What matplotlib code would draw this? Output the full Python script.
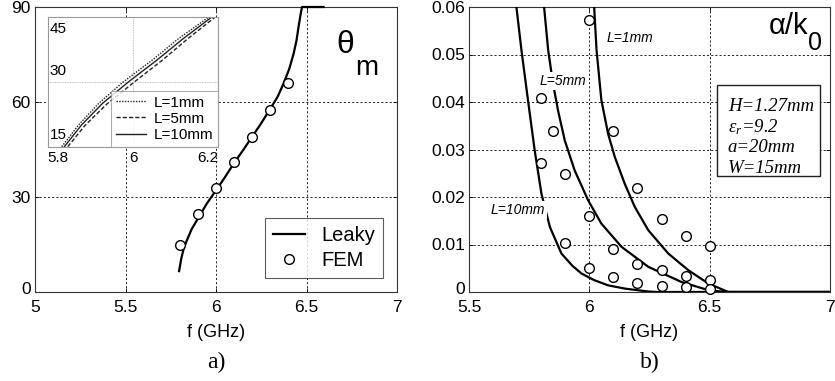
import matplotlib
matplotlib.use("Agg")
import matplotlib.pyplot as plt
import matplotlib.transforms as mtransforms
from matplotlib.patches import Rectangle

plt.rcParams['font.family'] = ['Liberation Sans', 'DejaVu Sans']
plt.rcParams['mathtext.fontset'] = 'custom'
plt.rcParams['mathtext.it'] = 'Liberation Serif:italic'
plt.rcParams['mathtext.rm'] = 'Liberation Serif:italic'

# ---------------- data: panel a) ----------------
f_leaky = [5.796, 5.808, 5.822, 5.839, 5.865, 5.894, 5.949, 6.0, 6.05, 6.097, 6.15, 6.198,
           6.25, 6.3, 6.34, 6.373, 6.405, 6.429, 6.445, 6.456, 6.467, 6.475, 6.594]
theta_leaky = [6.6, 10.5, 13.8, 16.3, 19.8, 22.6, 27.9, 32.1, 36.3, 40.5, 44.8, 48.9,
               53.3, 57.9, 61.6, 65.8, 70.5, 75.3, 79.5, 83.7, 87.5, 90, 90]
f_fem_a = [5.8, 5.9, 6.0, 6.1, 6.2, 6.3, 6.4]
theta_fem = [15, 24.5, 33, 41, 49, 57.5, 66]

# inset curves
th_in = [15, 20, 25, 30, 35, 40, 45]
f_in_1mm = [5.833, 5.872, 5.919, 5.977, 6.044, 6.106, 6.177]
f_in_5mm = [5.847, 5.888, 5.940, 6.003, 6.068, 6.128, 6.192]
f_in_10mm = [5.839, 5.879, 5.928, 5.989, 6.055, 6.117, 6.184]
inset_yticks = [15, 30, 45]

# ---------------- data: panel b) ----------------
f_L10 = [5.69, 5.697, 5.718, 5.745, 5.773, 5.801, 5.836, 5.884, 5.93, 5.967, 6.02, 6.078,
         6.15, 6.245, 6.28, 7.0]
a_L10 = [0.065, 0.06, 0.0509, 0.0404, 0.0298, 0.0207, 0.0137, 0.0081, 0.0055, 0.0039, 0.0025,
         0.0014, 0.0007, 0.0001, 0.0, 0.0]
f_L5 = [5.805, 5.812, 5.829, 5.849, 5.870, 5.898, 5.939, 5.995, 6.050, 6.134, 6.245, 6.383,
        6.494, 6.563, 7.0]
a_L5 = [0.065, 0.06, 0.0509, 0.0439, 0.0382, 0.0319, 0.0256, 0.0193, 0.0144, 0.0095, 0.0053,
        0.0021, 0.0004, 0.0, 0.0]
f_L1 = [6.015, 6.020, 6.030, 6.050, 6.078, 6.106, 6.147, 6.189, 6.245, 6.328, 6.411, 6.494,
        6.577, 7.0]
a_L1 = [0.065, 0.06, 0.0509, 0.0404, 0.0333, 0.0284, 0.0228, 0.0179, 0.0130, 0.0081, 0.0046,
        0.0018, 0.0, 0.0]

f_fem_L1 = [6.0, 6.1, 6.2, 6.3, 6.4, 6.5]
a_fem_L1 = [0.0573, 0.0338, 0.0219, 0.0153, 0.0118, 0.0096]
f_fem_L5 = [5.8, 5.85, 5.9, 6.0, 6.1, 6.2, 6.3, 6.4, 6.5]
a_fem_L5 = [0.0408, 0.0340, 0.0249, 0.0159, 0.0091, 0.0060, 0.0046, 0.0033, 0.0026]
f_fem_L10 = [5.8, 5.9, 6.0, 6.1, 6.2, 6.3, 6.4, 6.5]
a_fem_L10 = [0.0272, 0.0104, 0.0051, 0.0032, 0.0020, 0.0013, 0.0011, 0.0007]

params = ['H=1.27mm', 'ε$_r$=9.2', 'a=20mm', 'W=15mm']

# ---------------- figure ----------------
W, H = 835, 381
fig = plt.figure(figsize=(W / 100, H / 100), dpi=100)

def fax(x0, y0, x1, y1):
    return [x0 / W, 1 - y1 / H, (x1 - x0) / W, (y1 - y0) / H]

TICK_FS = 12.5

def style(ax):
    ax.tick_params(direction='in', length=3, width=0.6, top=True, right=True,
                   labelsize=TICK_FS, pad=3)
    ax.tick_params(axis='x', pad=6)
    for s in ax.spines.values():
        s.set_linewidth(0.8)
        s.set_color('#333333')
    ax.grid(True, linestyle=(0, (2.5, 2.5)), color='black', linewidth=0.6)
    ax.set_axisbelow(True)

def lift_zero(ax):
    fig.canvas.draw()
    lbl = ax.get_yticklabels()[0]
    off = mtransforms.ScaledTranslation(0, 3 / 72, fig.dpi_scale_trans)
    lbl.set_transform(lbl.get_transform() + off)

# ---- panel a ----
axa = fig.add_axes(fax(35, 7, 397, 292))
style(axa)
axa.plot(f_leaky, theta_leaky, color='black', lw=1.6, label='Leaky', zorder=3, clip_on=False)
axa.plot(f_fem_a, theta_fem, 'o', mfc='white', mec='black', ms=7, mew=1.0, label='FEM', zorder=4)
axa.set_xlim(5, 7)
axa.set_ylim(0, 90)
axa.set_xticks([5, 5.5, 6, 6.5, 7])
axa.set_xticklabels(['5', '5.5', '6', '6.5', '7'])
axa.set_yticks([0, 30, 60, 90])
axa.set_xlabel('f (GHz)', fontsize=13, labelpad=6)
leg = axa.legend(loc='lower right', fontsize=14.5, frameon=True, fancybox=False,
                 edgecolor='#333333', handlelength=1.6, borderpad=0.4, labelspacing=0.3,
                 bbox_to_anchor=((383 - 35) / 362, (292 - 278) / 285), borderaxespad=0.0)
leg.get_frame().set_linewidth(0.8)
axa.text(0.833, 0.84, 'θ', transform=axa.transAxes, fontsize=23, ha='left', va='baseline')
axa.text(0.885, 0.76, 'm', transform=axa.transAxes, fontsize=20, ha='left', va='baseline')
fig.text((35 + 397) / 2 / W, 1 - 362 / H, 'a)', family='Liberation Serif', fontsize=17,
         ha='center', va='center')

# inset
axi = fig.add_axes(fax(47.7, 17.3, 218.3, 146.7))
axi.plot(f_in_1mm, th_in, color='#222222', lw=1.0, ls=(0, (1, 1)), label='L=1mm')
axi.plot(f_in_5mm, th_in, color='#222222', lw=1.0, ls=(0, (3, 1.5)), label='L=5mm')
axi.plot(f_in_10mm, th_in, color='#222222', lw=1.0, ls='-', label='L=10mm')
axi.set_xlim(5.8, 6.2)
axi.set_ylim(15, 45)
axi.set_xticks([5.8, 6, 6.2])
axi.set_xticklabels(['5.8', '6', '6.2'])
axi.set_yticks(inset_yticks)
axi.set_yticklabels([])
axi.tick_params(axis='y', direction='in', length=0)
axi.tick_params(axis='x', direction='in', length=0, pad=3, labelsize=11)
xl = axi.get_xticklabels()
xl[0].set_horizontalalignment('left')
xl[-1].set_horizontalalignment('right')
for v in inset_yticks:
    axi.text(0.01, v + (-1.2 if v == 45 else 1.0), str(v), transform=axi.get_yaxis_transform(),
             fontsize=11, ha='left', va='top' if v == 45 else 'bottom')
axi.grid(True, linestyle=(0, (1, 1)), color='#aaaaaa', linewidth=0.6)
for s in axi.spines.values():
    s.set_color('#999999')
    s.set_linewidth(0.8)
legi = axi.legend(loc='lower right', fontsize=11, frameon=True, fancybox=False,
                  edgecolor='#999999', handlelength=2.0, borderpad=0.3, labelspacing=0.15,
                  borderaxespad=0.0, handletextpad=0.5)
legi.get_frame().set_linewidth(0.8)

# ---- panel b ----
axb = fig.add_axes(fax(469, 7, 830, 292))
style(axb)
for fx, ay in [(f_L10, a_L10), (f_L5, a_L5), (f_L1, a_L1)]:
    axb.plot(fx, ay, color='black', lw=1.6, zorder=3)
for fx, ay in [(f_fem_L1, a_fem_L1), (f_fem_L5, a_fem_L5), (f_fem_L10, a_fem_L10)]:
    axb.plot(fx, ay, 'o', mfc='white', mec='black', ms=7, mew=1.0, zorder=4, clip_on=False)
axb.set_xlim(5.5, 7)
axb.set_ylim(0, 0.06)
axb.set_xticks([5.5, 6, 6.5, 7])
axb.set_xticklabels(['5.5', '6', '6.5', '7'])
axb.set_yticks([0, 0.01, 0.02, 0.03, 0.04, 0.05, 0.06])
axb.set_yticklabels(['0', '0.01', '0.02', '0.03', '0.04', '0.05', '0.06'])
axb.set_xlabel('f (GHz)', fontsize=13, labelpad=6)
bb = dict(facecolor='white', edgecolor='none', pad=1.5)
axb.text(6.168, 0.0535, 'L=1mm', fontsize=10, style='italic', ha='center', va='center', zorder=5)
axb.text(5.891, 0.0444, 'L=5mm', fontsize=10, style='italic', ha='center', va='center',
         bbox=bb, zorder=5)
axb.text(5.704, 0.0173, 'L=10mm', fontsize=10, style='italic', ha='center', va='center',
         bbox=bb, zorder=5)
axb.text(0.83, 0.905, 'α/k', transform=axb.transAxes, fontsize=21, ha='left', va='baseline')
axb.text(0.94, 0.85, '0', transform=axb.transAxes, fontsize=18, ha='left', va='baseline')

x0, x1 = (717 - 469) / 361, (820 - 469) / 361
y0, y1 = (292 - 176) / 285, (292 - 85) / 285
axb.add_patch(Rectangle((x0, y0), x1 - x0, y1 - y0, transform=axb.transAxes,
                        facecolor='white', edgecolor='#222222', lw=1.0, zorder=5))
for i, t in enumerate(params):
    axb.text(x0 + 0.03, y1 - 0.075 - i * 0.073, t, transform=axb.transAxes,
             family='Liberation Serif', style='italic', fontsize=13.5, ha='left',
             va='center', zorder=6)
fig.text((469 + 830) / 2 / W, 1 - 362 / H, 'b)', family='Liberation Serif', fontsize=17,
         ha='center', va='center')

lift_zero(axa)
lift_zero(axb)

fig.savefig('out.png', dpi=100)
